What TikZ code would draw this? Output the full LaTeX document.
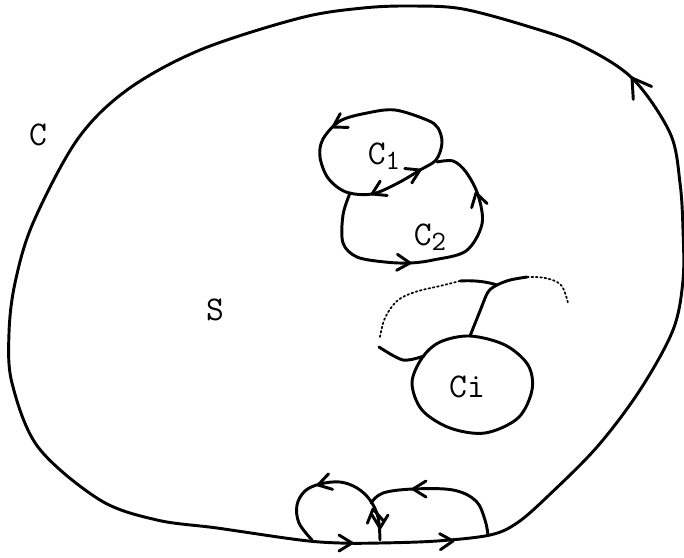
\documentclass[tikz,border=0pt]{standalone}
\usetikzlibrary{positioning}

\begin{document}
\begin{tikzpicture}[x=0.75pt,y=-0.75pt,
	curve/.style={line width=2.2pt, line join=round, line cap=round},
	faint/.style={line width=1.3pt, dotted, line cap=round},
	lbl/.style={font=\ttfamily\fontsize{26}{28}\selectfont, inner sep=0pt},
	chev/.pic={\draw[line width=2.2pt, line cap=round, line join=round] (-13,-8) -- (0,0) -- (-13,8);}
	]
	\useasboundingbox (0,0) rectangle (684,557);

	% outer contour C
	\draw[curve] plot[smooth cycle, tension=0.55] coordinates {
		(300,540) (340,543) (380,543) (437,541) (490,535) (517,523) (547,497)
		(597,447) (640,390) (673,330) (683,280) (683,230) (680,183) (670,133)
		(632,78) (580,45) (530,27) (463,9) (413,6) (363,8) (300,18)
		(200,50) (127,90) (77,140) (33,223) (15,283) (9,333) (12,383) (38,447)
		(100,500) (157,520) (217,528)};

	% small loops on the bottom
	\draw[curve] plot[smooth, tension=0.6] coordinates {
		(312,540) (299,523) (297,505) (305,491) (320,484) (340,482) (357,488)
		(370,500) (378,517) (380,540)};
	\draw[curve] plot[smooth, tension=0.6] coordinates {
		(371,503) (383,493) (413,489) (453,490) (476,501) (485,520) (488,535)};

	% C1 and C2
	\draw[curve] plot[smooth cycle, tension=0.55] coordinates {
		(427,120) (395,110) (367,113) (340,121) (323,139) (320,157) (328,178)
		(346,192) (372,194) (398,183) (420,170) (436,160) (442,143) (438,128)};
	\draw[curve] plot[smooth, tension=0.55] coordinates {
		(350,193) (343,215) (343,243) (357,257) (385,262) (410,263) (433,260)
		(466,251) (482,224) (478,195) (466,172) (453,161) (437,162)};

	% Ci and its cut
	\draw[curve] plot[smooth cycle, tension=0.55] coordinates {
		(470,336) (505,345) (528,365) (532,390) (518,418) (485,433) (450,428)
		(422,410) (412,383) (422,358) (440,342)};
	\draw[curve] plot[smooth, tension=0.5] coordinates {
		(424,356) (403,360) (379,347)};
	\draw[curve] plot[smooth, tension=0.5] coordinates {
		(470,336) (480,311) (488,292) (497,285) (510,280) (527,277)};
	\draw[curve] (460,281) .. controls (475,280) and (488,282) .. (497,285);
	\draw[faint] plot[smooth, tension=0.6] coordinates {
		(380,337) (385,318) (397,301) (415,292) (440,286) (460,281)};
	\draw[faint] plot[smooth, tension=0.6] coordinates {
		(527,277) (545,278) (561,285) (568,303)};

	% arrow heads
	\pic[scale=1.4, rotate=125] at (632,78) {chev};
	\pic at (352,543) {chev};
	\pic[rotate=3] at (453,541) {chev};
	\pic[rotate=195] at (318,485) {chev};
	\pic[rotate=180] at (413,489) {chev};
	\pic[rotate=270] at (380,528) {chev};
	\pic[rotate=100] at (373,509) {chev};
	\pic[rotate=210] at (333,127) {chev};
	\pic[rotate=26] at (420,170) {chev};
	\pic[rotate=206] at (372,194) {chev};
	\pic[rotate=-3] at (410,263) {chev};
	\pic[rotate=105] at (476,193) {chev};

	% labels
	\node[lbl] (lblC) at (38,135) {C};
	\node[lbl] (lblS) at (215,310) {S};
	\node[lbl] (lblCone) at (384,156) {C\raisebox{-0.35ex}{\fontsize{21}{23}\selectfont 1}};
	\node[lbl] (lblCtwo) at (430,237) {C\raisebox{-0.35ex}{\fontsize{21}{23}\selectfont 2}};
	\node[lbl] (lblCi) at (467,387) {Ci};
\end{tikzpicture}
\end{document}
